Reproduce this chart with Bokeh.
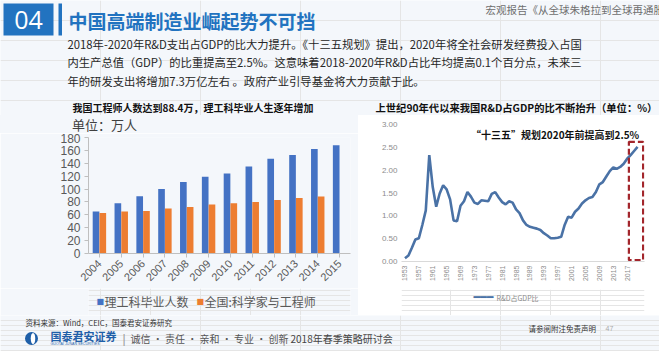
from math import pi
from bokeh.plotting import figure
from bokeh.models import (Range1d, FactorRange, Label, FixedTicker, Div,
                          NumeralTickFormatter, ColumnDataSource)
from bokeh.layouts import column, row
from bokeh.transform import dodge
from bokeh.embed import file_html
from bokeh.resources import INLINE

# ---------------- data ----------------
years = ["2004", "2005", "2006", "2007", "2008", "2009", "2010", "2011", "2012", "2013", "2014", "2015"]
grads = [65, 78, 89, 100, 111, 119, 124, 135, 147, 153, 162, 168]          # 理工科毕业人数
engineers = [63, 65, 66, 70, 72, 76, 78, 80, 83, 86, 88.4]                   # 全国:科学家与工程师 (2004-2014)
bar_yticks = [0, 20, 40, 60, 80, 100, 120, 140, 160, 180]
bar_series = ["理工科毕业人数", "全国:科学家与工程师"]

rd_years = list(range(1953, 2021))
rd_ratio = [0.07, 0.13, 0.30, 0.48, 0.51, 0.80, 1.12, 2.33, 1.63, 1.20,
            1.49, 1.67, 1.58, 1.36, 0.90, 0.88, 1.22, 1.32, 1.52, 1.42,
            1.29, 1.26, 1.34, 1.33, 1.32, 1.48, 1.52, 1.40, 1.30, 1.25,
            1.32, 1.29, 1.14, 1.06, 0.90, 0.80, 0.76, 0.74, 0.72, 0.69,
            0.62, 0.57, 0.51, 0.51, 0.52, 0.54, 0.80, 0.98, 0.96, 1.09,
            1.16, 1.27, 1.34, 1.39, 1.41, 1.52, 1.69, 1.74, 1.86, 1.98,
            2.06, 2.03, 2.07, 2.14, 2.25, 2.33, 2.42, 2.51]
rd_series = "R&D占GDP比"
rd_xticks = [1953, 1957, 1961, 1965, 1969, 1973, 1977, 1981, 1985, 1989,
             1993, 1997, 2001, 2005, 2009, 2013, 2017]
rd_yticks = [0.0, 0.5, 1.0, 1.5, 2.0, 2.5, 3.0]
target_span = dict(left=2017.5, right=2021.6, bottom=0.03, top=2.62)   # 2017-2020 highlight

header_title = "中国高端制造业崛起势不可挡"
header_ref = "宏观报告《从全球朱格拉到全球再通胀》"
body_lines = [
    "2018年-2020年R&D支出占GDP的比大力提升。《十三五规划》提出，2020年将全社会研发经费投入占国",
    "内生产总值（GDP）的比重提高至2.5%。这意味着2018-2020年R&D占比年均提高0.1个百分点，未来三",
    "年的研发支出将增加7.3万亿左右 。政府产业引导基金将大力贡献于此。",
]
left_title = "我国工程师人数达到88.4万，理工科毕业人生逐年增加"
right_title = "上世纪90年代以来我国R&D占GDP的比不断抬升（单位：%）"
unit_text = "单位：万人"
annot = "“十三五”规划2020年前提高到2.5%"

# ---------------- styles ----------------
BG = "#F4F7FB"
BLUE = "#2273C0"
BAR_BLUE = "#4472C4"
BAR_ORANGE = "#ED7D31"
LINE_BLUE = "#4A72A6"
CJK = "Noto Sans CJK SC"
LAT = "Liberation Sans"


def canvas(w, h, top, bottom, xr=None, bg=BG):
    """A plain text/decoration strip whose data units are page pixels."""
    xr = xr if xr is not None else (0, w)
    p = figure(width=w, height=h, x_range=Range1d(*xr), y_range=Range1d(bottom, top),
               toolbar_location=None, output_backend="svg",
               x_axis_location=None, y_axis_location=None, min_border=0)
    p.outline_line_color = None
    p.background_fill_color = bg
    p.border_fill_color = bg
    return p


def lab(p, x, y, text, size, color="#262626", bold=False, align="left", font=CJK):
    p.add_layout(Label(x=x, y=y, text=text, text_font=font,
                       text_font_size=f"{size}px", text_color=color,
                       text_font_style="bold" if bold else "normal",
                       text_align=align, text_baseline="middle"))


# ---------------- header (page y 0-115) ----------------
ph = canvas(659, 115, 0, 115)
ph.quad(left=[3], right=[53], top=[3], bottom=[35], fill_color=BLUE, line_color=None)
ph.quad(left=[58], right=[61.5], top=[3], bottom=[35], fill_color=BLUE, line_color=None)
lab(ph, 28, 19.5, "04", 25, color="white", align="center", font="Open Sans")
lab(ph, 68, 20, header_title, 19, color=BLUE, bold=True)
lab(ph, 485, 9, header_ref, 10.5, color="#6E6E6E")
for i, t in enumerate(body_lines):
    lab(ph, 67, 43 + i * 18.5, t, 11.3, color="#262626")
lab(ph, 72, 106.5, left_title, 10, color="#111111", bold=True)
lab(ph, 375, 106.5, right_title, 10.3, color="#111111", bold=True)

# ---------------- bar chart column ----------------
unit_div = Div(text=unit_text, width=358, height=18, margin=0,
               styles={"font-size": "13px", "color": "#404040", "font-family": CJK,
                       "text-indent": "72px", "line-height": "20px",
                       "background-color": BG, "white-space": "nowrap"})

pb = figure(frame_width=262, frame_height=116, x_range=FactorRange(factors=years),
            y_range=Range1d(0, 180), toolbar_location=None, output_backend="svg",
            min_border_left=88, min_border_right=8, min_border_top=4, min_border_bottom=35)
pb.background_fill_color = BG
pb.border_fill_color = BG
pb.outline_line_color = None
pb.grid.visible = False
src_g = ColumnDataSource(dict(year=years, v=grads))
src_e = ColumnDataSource(dict(year=years[:len(engineers)], v=engineers))
pb.vbar(x=dodge("year", -0.155, range=pb.x_range), top="v", width=0.305,
        source=src_g, fill_color=BAR_BLUE, line_color=None)
pb.vbar(x=dodge("year", 0.155, range=pb.x_range), top="v", width=0.305,
        source=src_e, fill_color=BAR_ORANGE, line_color=None)
pb.yaxis.ticker = FixedTicker(ticks=bar_yticks)
for ax in (pb.xaxis, pb.yaxis):
    ax.axis_line_color = "#BFBFBF"
    ax.major_tick_line_color = "#BFBFBF"
    ax.minor_tick_line_color = None
    ax.major_tick_in = 0
    ax.major_tick_out = 4
    ax.major_label_standoff = 4
    ax.major_label_text_font = LAT
    ax.major_label_text_color = "#595959"
pb.yaxis.major_label_text_font_size = "12px"
pb.xaxis.major_label_text_font_size = "11px"
pb.xaxis.major_label_orientation = pi / 4

# legend strip; its frame lines up with the bar chart's frame (page x 88-350)
bar_legend = canvas(358, 27, 288, 315, xr=(88, 350))
lab(bar_legend, 96, 301, "■", 8, color=BAR_BLUE, font="DejaVu Sans")
lab(bar_legend, 104, 301, bar_series[0], 12, color="#595959")
lab(bar_legend, 196, 301, "■", 8, color=BAR_ORANGE, font="DejaVu Sans")
lab(bar_legend, 204, 301, bar_series[1], 12, color="#595959")

left_col = column(unit_div, pb, bar_legend)

# ---------------- line chart column ----------------
pl = figure(frame_width=243, frame_height=137, x_range=Range1d(1952, 2022),
            y_range=Range1d(0, 3.0), toolbar_location=None, output_backend="svg",
            min_border_left=36, min_border_right=11, min_border_top=7, min_border_bottom=28)
pl.background_fill_color = "white"
pl.border_fill_color = "white"
pl.outline_line_color = None
pl.grid.visible = False
pl.line(rd_years, rd_ratio, line_color=LINE_BLUE, line_width=2.6)
pl.quad(left=[target_span["left"]], right=[target_span["right"]],
        bottom=[target_span["bottom"]], top=[target_span["top"]],
        fill_alpha=0, line_color="#A3262C", line_dash="6 3", line_width=2.2)
lab(pl, 1972, 2.78, annot, 10, color="#111111", bold=True)
pl.xaxis.ticker = FixedTicker(ticks=rd_xticks)
pl.yaxis.ticker = FixedTicker(ticks=rd_yticks)
pl.yaxis.formatter = NumeralTickFormatter(format="0.00")
pl.xaxis.major_label_orientation = pi / 2
pl.yaxis.axis_line_color = None
pl.xaxis.axis_line_color = "#D9D9D9"
for ax in (pl.xaxis, pl.yaxis):
    ax.major_tick_line_color = None
    ax.minor_tick_line_color = None
    ax.major_tick_out = 0
    ax.major_tick_in = 0
    ax.major_label_standoff = 4
    ax.major_label_text_font = LAT
    ax.major_label_text_color = "#8C8C8C"
pl.yaxis.major_label_text_font_size = "8px"
pl.xaxis.major_label_text_font_size = "7px"

# legend strip; its frame lines up with the line chart's frame (page x 401-644)
line_legend = canvas(290, 26, 289, 315, xr=(401, 644), bg="white")
lab(line_legend, 473, 297, "━━━", 11, color=LINE_BLUE, font="DejaVu Sans")
lab(line_legend, 496, 297, rd_series, 7, color="#8C8C8C")

right_col = column(pl, line_legend, margin=(2, 4, 0, 7))

# ---------------- footer (page y 315-351) ----------------
pf = canvas(659, 36, 315, 351)
lab(pf, 25, 322, "资料来源：Wind，CEIC，国泰君安证券研究", 7.5, color="#333333")
pf.ellipse(x=[31], y=[338], width=13, height=13, fill_color="#1F5FA8", line_color=None)
pf.ellipse(x=[32.5], y=[338], width=4.5, height=11, fill_color="white", line_color=None)
lab(pf, 50, 335, "国泰君安证券", 11, color="#1F5FA8", bold=True)
lab(pf, 50, 343, "GUOTAI JUNAN SECURITIES", 3.6, color="#1F5FA8", font=LAT)
lab(pf, 122, 338, "|", 12, color="#999999", font=LAT)
lab(pf, 130, 338, "诚信 · 责任 · 亲和 · 专业 · 创新", 10, color="#555555")
lab(pf, 282, 338, "|", 12, color="#999999", font=LAT)
lab(pf, 290, 338, "2018年春季策略研讨会", 10, color="#444444")
lab(pf, 528, 328, "请参阅附注免责声明", 7.5, color="#333333")
lab(pf, 605, 328, "47", 7, color="#AAAAAA", font=LAT)

layout = column(ph, row(left_col, right_col), pf)
open("out.html", "w").write(file_html(layout, INLINE))
